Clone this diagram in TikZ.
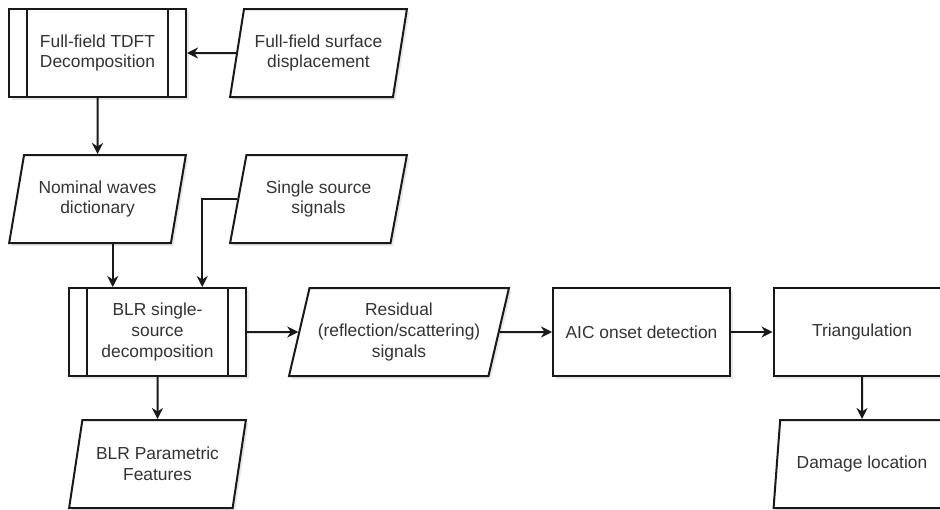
\documentclass[tikz,border=0pt]{standalone}
\usepackage{fontspec}
\setmainfont{Liberation Sans}
\usetikzlibrary{shapes.geometric,arrows.meta,calc,shadows}
\begin{document}
\begin{tikzpicture}[x=1pt,y=-1pt,
  every node/.style={font=\fontsize{17.4}{20.6}\selectfont, text=black!80, align=center, inner sep=0pt},
  base/.style={draw=black!90, line width=2pt, fill=white,
    drop shadow={opacity=0.18, shadow xshift=2.5pt, shadow yshift=-3pt}},
  procbox/.style={base, rectangle, minimum width=177pt, minimum height=88pt},
  iobox/.style={base, trapezium, trapezium left angle=72, trapezium right angle=108,
    trapezium stretches=true, minimum width=177pt, minimum height=88pt},
  bar/.style={draw=black!90, line width=2pt},
  arr/.style={draw=black!90, line width=2pt, -{Stealth[length=11pt,width=11pt,inset=3.5pt]}},
]
\useasboundingbox (0,0) rectangle (940,509);
\clip (0,0) rectangle (940,509);

\node[procbox] (tdft) at (97.5,53) {Full-field TDFT\\Decomposition};
\node[iobox] (surf) at (318.5,53) {Full-field surface\\displacement};
\node[iobox] (nom) at (97.5,199) {Nominal waves\\dictionary};
\node[iobox] (single) at (318.5,199) {Single source\\signals};
\node[procbox] (blr) at (157.5,332) {BLR single-\\source\\decomposition};
\node[iobox, minimum width=220pt] (resid) at (399,332) {Residual\\(reflection/scattering)\\signals};
\node[procbox] (aic) at (641.5,332) {AIC onset detection};
\node[procbox] (tri) at (862,332) {Triangulation};
\node[iobox] (param) at (157.5,464) {BLR Parametric\\Features};
\node[iobox] (dmg) at (862,464) {Damage location};

% inner bars of predefined-process boxes
\foreach \n in {tdft,blr}{
  \draw[bar] ($(\n.north west)+(19,0)$) -- ($(\n.south west)+(19,0)$);
  \draw[bar] ($(\n.north east)+(-19,0)$) -- ($(\n.south east)+(-19,0)$);
}

\coordinate (b1) at ($(blr.north west)!0.25!(blr.north east)$);
\coordinate (b2) at ($(blr.north west)!0.75!(blr.north east)$);

\draw[arr] (surf.west) -- (tdft.east);
\draw[arr] (tdft.south) -- (nom.north);
\draw[arr] (nom.south -| b1) -- (b1);
\draw[arr] (single.west) -| (b2);
\draw[arr] (blr.east) -- (resid.west);
\draw[arr] (resid.east) -- (aic.west);
\draw[arr] (aic.east) -- (tri.west);
\draw[arr] (blr.south) -- (param.north);
\draw[arr] (tri.south) -- (dmg.north);
\end{tikzpicture}
\end{document}
